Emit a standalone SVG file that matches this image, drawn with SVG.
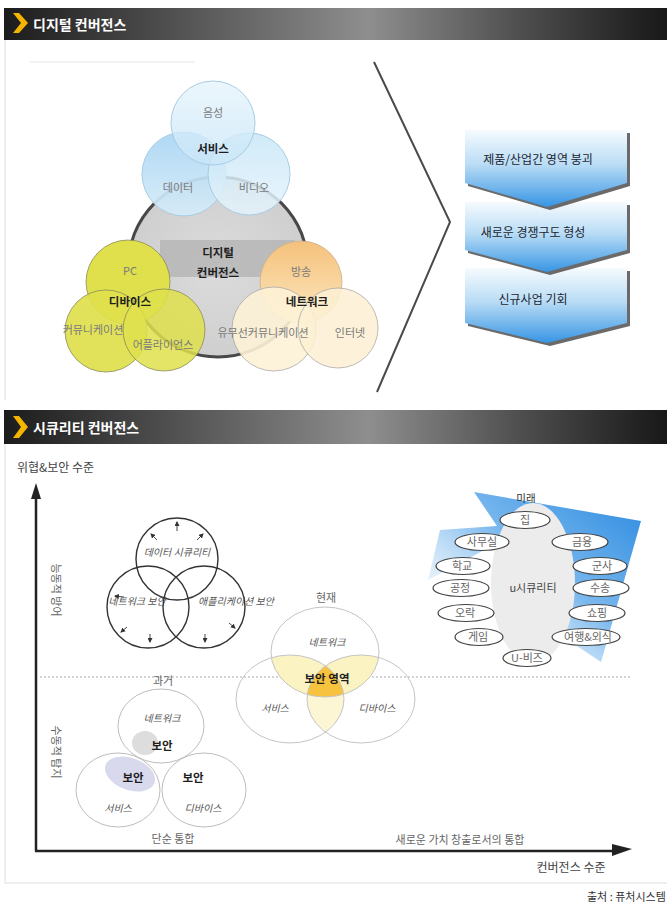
<svg xmlns="http://www.w3.org/2000/svg" width="667" height="903" viewBox="0 0 667 903">
<defs>
<style>
text{font-family:"Noto Sans CJK KR","Noto Sans",sans-serif;}
.hdr{fill:#fff;font-size:14px;font-weight:bold;}
.lt{fill:#7a7a7a;font-size:11px;text-anchor:middle;}
.bd{fill:#1e1e1e;font-size:11.5px;font-weight:bold;text-anchor:middle;}
.bx{fill:#1c2530;font-size:12px;text-anchor:middle;}
.it{fill:#555;font-size:10px;font-style:italic;text-anchor:middle;}
.gl{fill:#666;font-size:11px;text-anchor:middle;}
.el{fill:#fff;stroke:#444;stroke-width:1.2;}
.tc{fill:none;stroke:#333;stroke-width:1.4;}
.pc{fill:#fff;fill-opacity:0.3;stroke:#bdbdbd;stroke-width:1;}
.tick{stroke:#333;stroke-width:0.9;marker-end:url(#sa);}
</style>
<linearGradient id="bar" x1="0" y1="0" x2="1" y2="0">
<stop offset="0" stop-color="#1c1c1c"/><stop offset="0.3" stop-color="#5a5a5a"/><stop offset="0.55" stop-color="#8e8e8e"/><stop offset="0.78" stop-color="#4e4e4e"/><stop offset="1" stop-color="#181818"/>
</linearGradient>
<linearGradient id="blueBox" x1="0" y1="0" x2="0" y2="1">
<stop offset="0" stop-color="#f6fbfe"/><stop offset="0.45" stop-color="#b9dcf5"/><stop offset="1" stop-color="#3795e4"/>
</linearGradient>
<radialGradient id="gray" cx="0.5" cy="0.5" r="0.5">
<stop offset="0" stop-color="#dcdcdc"/><stop offset="1" stop-color="#cfcfcf"/>
</radialGradient>
<linearGradient id="svcTop" x1="0" y1="0" x2="0" y2="1"><stop offset="0" stop-color="#e6f4fc"/><stop offset="1" stop-color="#c9e6f8"/></linearGradient>
<linearGradient id="svcL" x1="0" y1="0" x2="0" y2="1"><stop offset="0" stop-color="#a9d5f3"/><stop offset="1" stop-color="#d6ecf9"/></linearGradient>
<linearGradient id="svcR" x1="0" y1="0" x2="0" y2="1"><stop offset="0" stop-color="#c8e6f7"/><stop offset="1" stop-color="#e6f4fc"/></linearGradient>
<linearGradient id="netTop" x1="0" y1="0" x2="0" y2="1"><stop offset="0" stop-color="#f5c17c"/><stop offset="1" stop-color="#fce8bf"/></linearGradient>
<linearGradient id="fut" x1="1" y1="0" x2="0" y2="1">
<stop offset="0" stop-color="#2a8ae0"/><stop offset="0.45" stop-color="#7ab8ee"/><stop offset="1" stop-color="#ffffff" stop-opacity="0"/>
</linearGradient>
<marker id="sa" markerWidth="5" markerHeight="5" refX="4" refY="2.5" orient="auto" markerUnits="userSpaceOnUse"><path d="M0,0 L5,2.5 L0,5 Z" fill="#333"/></marker>
<clipPath id="cBig"><circle cx="218" cy="267" r="89"/></clipPath>
<clipPath id="cA"><ellipse cx="325" cy="652" rx="54" ry="45"/></clipPath>
<clipPath id="cB"><ellipse cx="290" cy="699" rx="54" ry="44"/></clipPath>
<clipPath id="cC"><ellipse cx="361" cy="699" rx="54" ry="44"/></clipPath>
</defs>

<rect x="0" y="0" width="667" height="903" fill="#fff"/>

<!-- Header 1 -->
<g id="header1">
<rect x="4" y="8" width="663" height="32" fill="url(#bar)"/>
<polygon points="13,13 19,13 28,23 19,33 13,33 21,23" fill="#f4b400"/>
<text x="33" y="30" class="hdr">디지털 컨버전스</text>
</g>
<line x1="5" y1="40" x2="5" y2="400" stroke="#ddd" stroke-width="1"/>
<line x1="30" y1="62" x2="195" y2="62" stroke="#e4e4e4" stroke-width="1"/>

<!-- Digital convergence -->
<g id="core">
<circle cx="218" cy="267" r="90" fill="url(#gray)" stroke="#484848" stroke-width="3"/>
<rect x="160" y="240" width="135" height="37" fill="#b4b4b4" clip-path="url(#cBig)" opacity="0.8"/>
<text x="218" y="257" class="bd">디지털</text>
<text x="218" y="277" class="bd">컨버전스</text>
</g>

<g id="service">
<circle cx="184" cy="174" r="42" fill="url(#svcL)" fill-opacity="0.92" stroke="#a7cde4" stroke-width="1"/>
<circle cx="249" cy="174" r="41" fill="url(#svcR)" fill-opacity="0.85" stroke="#a7cde4" stroke-width="1"/>
<circle cx="213" cy="123" r="42" fill="url(#svcTop)" fill-opacity="0.8" stroke="#a7cde4" stroke-width="1"/>
<text x="213" y="117" class="lt">음성</text>
<text x="213" y="153" class="bd">서비스</text>
<text x="178" y="192" class="lt">데이터</text>
<text x="254" y="192" class="lt">비디오</text>
</g>

<g id="device">
<circle cx="128" cy="282" r="42" fill="#dfe04c" stroke="#8a8a5a" stroke-width="0.8"/>
<circle cx="106" cy="331" r="41" fill="#dfe04c" fill-opacity="0.92" stroke="#8a8a5a" stroke-width="0.8"/>
<circle cx="164" cy="330" r="41" fill="#dfe04c" fill-opacity="0.85" stroke="#8a8a5a" stroke-width="0.8"/>
<text x="130" y="275" class="lt">PC</text>
<text x="130" y="306" class="bd">디바이스</text>
<text x="93" y="334" class="lt">커뮤니케이션</text>
<text x="163" y="349" class="lt">어플라이언스</text>
</g>

<g id="network">
<circle cx="301" cy="282" r="41" fill="url(#netTop)" stroke="#c8b090" stroke-width="0.8"/>
<circle cx="274" cy="329" r="42" fill="#fdf2d6" fill-opacity="0.9" stroke="#aaa" stroke-width="0.8"/>
<circle cx="338" cy="328" r="40" fill="#fdf0d2" fill-opacity="0.85" stroke="#aaa" stroke-width="0.8"/>
<text x="301" y="276" class="lt">방송</text>
<text x="307" y="306" class="bd">네트워크</text>
<text x="263" y="337" class="lt">유무선커뮤니케이션</text>
<text x="350" y="337" class="lt">인터넷</text>
</g>

<g id="connectors">
<polyline points="374,62 450,222 377,392" fill="none" stroke="#4a4a4a" stroke-width="2"/>
</g>

<g id="step3">
<polygon points="468,271 630,271 630,326 550,346 468,326" fill="#6a6a6a"/>
<polygon points="465,268 627,268 627,323 547,343 465,323" fill="url(#blueBox)"/>
<text x="533" y="304" class="bx">신규사업 기회</text>
</g>
<g id="step2">
<polygon points="468,205 630,205 630,253 550,275 468,253" fill="#6a6a6a"/>
<polygon points="465,202 627,202 627,250 547,272 465,250" fill="url(#blueBox)"/>
<text x="533" y="237" class="bx">새로운 경쟁구도 형성</text>
</g>
<g id="step1">
<polygon points="468,133 630,133 630,186 550,210 468,186" fill="#6a6a6a"/>
<polygon points="465,130 627,130 627,183 547,207 465,183" fill="url(#blueBox)"/>
<text x="538" y="164" class="bx">제품/산업간 영역 붕괴</text>
</g>

<!-- Header 2 -->
<g id="header2">
<rect x="4" y="410" width="663" height="34" fill="url(#bar)"/>
<polygon points="13,416 19,416 28,427 19,438 13,438 21,427" fill="#f4b400"/>
<text x="33" y="433" class="hdr">시큐리티 컨버전스</text>
</g>
<line x1="5" y1="444" x2="5" y2="883" stroke="#ddd" stroke-width="1"/>
<line x1="5" y1="883" x2="667" y2="883" stroke="#ddd" stroke-width="1"/>

<!-- Axes -->
<g id="axes">
<line x1="36" y1="851" x2="36" y2="496" stroke="#222" stroke-width="2.5"/>
<polygon points="36,483 31,499 41,499" fill="#222"/>
<line x1="35" y1="851" x2="616" y2="851" stroke="#222" stroke-width="2.5"/>
<polygon points="632,849 612,844 612,856" fill="#222"/>
<text x="17" y="472" fill="#444" font-size="12">위협&amp;보안 수준</text>
<text x="571" y="872" fill="#444" font-size="12" text-anchor="middle">컨버전스 수준</text>
<text x="52" y="590" fill="#666" font-size="11" text-anchor="middle" transform="rotate(90 52 590)">능동적 방어</text>
<text x="52" y="752" fill="#666" font-size="11" text-anchor="middle" transform="rotate(90 52 752)">수동적 탐지</text>
<line x1="40" y1="677" x2="630" y2="677" stroke="#aaa" stroke-width="1" stroke-dasharray="2,2"/>
<text x="460" y="844" class="gl" font-size="10.5">새로운 가치 창출로서의 통합</text>
<text x="173" y="843" class="gl" font-size="10.5">단순 통합</text>
</g>

<!-- Threat circles -->
<g id="threats">
<circle cx="177" cy="559" r="41" class="tc"/>
<circle cx="148" cy="607" r="41" class="tc"/>
<circle cx="204" cy="607" r="41" class="tc"/>
<line x1="177" y1="531" x2="177" y2="522" class="tick"/>
<line x1="197" y1="540" x2="203" y2="534" class="tick"/>
<line x1="157" y1="540" x2="151" y2="534" class="tick"/>
<line x1="124" y1="597" x2="115" y2="596" class="tick"/>
<line x1="127" y1="627" x2="121" y2="632" class="tick"/>
<line x1="150" y1="634" x2="150" y2="642" class="tick"/>
<line x1="229" y1="623" x2="235" y2="628" class="tick"/>
<line x1="205" y1="634" x2="205" y2="642" class="tick"/>
<text x="177" y="556" class="it">데이터 시큐리티</text>
<text x="137" y="605" class="it">네트워크 보안</text>
<text x="236" y="605" class="it">애플리케이션 보안</text>
</g>

<!-- Past -->
<g id="past">
<text x="163" y="685" class="gl">과거</text>
<ellipse cx="145" cy="743" rx="13" ry="12" fill="#cfcfcf"/>
<ellipse cx="130" cy="774" rx="26" ry="16" fill="#c9c9e6" transform="rotate(20 130 774)"/>
<ellipse cx="161" cy="726" rx="43" ry="37" class="pc" stroke="#999"/>
<ellipse cx="118" cy="790" rx="42" ry="37" class="pc" stroke="#999"/>
<ellipse cx="204" cy="790" rx="42" ry="37" class="pc" stroke="#999"/>
<text x="162" y="722" class="it" font-size="10.5">네트워크</text>
<text x="162" y="750" class="bd">보안</text>
<text x="133" y="782" class="bd">보안</text>
<text x="118" y="812" class="it" font-size="10.5">서비스</text>
<text x="193" y="782" class="bd">보안</text>
<text x="203" y="812" class="it" font-size="10.5">디바이스</text>
</g>

<!-- Present -->
<g id="present">
<text x="326" y="602" class="gl" font-size="10.5">현재</text>
<g clip-path="url(#cA)"><ellipse cx="290" cy="699" rx="54" ry="44" fill="#fcf3c2"/><ellipse cx="361" cy="699" rx="54" ry="44" fill="#fcf3c2"/></g>
<g clip-path="url(#cB)"><ellipse cx="361" cy="699" rx="54" ry="44" fill="#fdf6d4"/></g>
<g clip-path="url(#cA)"><g clip-path="url(#cB)"><ellipse cx="361" cy="699" rx="54" ry="44" fill="#f7c33f"/></g></g>
<ellipse cx="325" cy="652" rx="54" ry="45" fill="none" stroke="#c4c4c4" stroke-width="1"/>
<ellipse cx="290" cy="699" rx="54" ry="44" fill="none" stroke="#c4c4c4" stroke-width="1"/>
<ellipse cx="361" cy="699" rx="54" ry="44" fill="none" stroke="#c4c4c4" stroke-width="1"/>
<text x="327" y="646" class="it" font-size="10.5">네트워크</text>
<text x="327" y="683" class="bd">보안 영역</text>
<text x="275" y="712" class="it" font-size="10.5">서비스</text>
<text x="377" y="712" class="it" font-size="10.5">디바이스</text>
</g>

<!-- Future -->
<g id="future">
<polygon points="474,492 641,521 601,662 568,640 552,560 503,540 428,580 440,530 497,526" fill="url(#fut)"/>
<ellipse cx="533" cy="583" rx="42" ry="80" fill="#ececec"/>
<text x="526" y="502" fill="#333" font-size="10.5" text-anchor="middle">미래</text>
<text x="533" y="592" fill="#444" font-size="11" text-anchor="middle">u시큐리티</text>
<ellipse cx="525" cy="520" rx="25" ry="8.5" class="el"/><text x="525" y="524" class="gl" fill="#333" font-size="10">집</text>
<ellipse cx="482" cy="542" rx="27" ry="8.5" class="el"/><text x="482" y="546" class="gl" fill="#333" font-size="10">사무실</text>
<ellipse cx="580" cy="542" rx="28" ry="8.5" class="el"/><text x="582" y="546" class="gl" fill="#333" font-size="10">금융</text>
<ellipse cx="463" cy="566" rx="27" ry="8.5" class="el"/><text x="462" y="570" class="gl" fill="#333" font-size="10">학교</text>
<ellipse cx="600" cy="566" rx="27" ry="8.5" class="el"/><text x="602" y="570" class="gl" fill="#333" font-size="10">군사</text>
<ellipse cx="461" cy="588" rx="28" ry="8.5" class="el"/><text x="460" y="592" class="gl" fill="#333" font-size="10">공정</text>
<ellipse cx="601" cy="588" rx="28" ry="8.5" class="el"/><text x="600" y="592" class="gl" fill="#333" font-size="10">수송</text>
<ellipse cx="466" cy="613" rx="28" ry="8.5" class="el"/><text x="465" y="617" class="gl" fill="#333" font-size="10">오락</text>
<ellipse cx="597" cy="613" rx="28" ry="8.5" class="el"/><text x="597" y="617" class="gl" fill="#333" font-size="10">쇼핑</text>
<ellipse cx="479" cy="637" rx="24" ry="8.5" class="el"/><text x="478" y="641" class="gl" fill="#333" font-size="10">게임</text>
<ellipse cx="586" cy="637" rx="34" ry="8.5" class="el"/><text x="588" y="641" class="gl" fill="#333" font-size="10">여행&amp;외식</text>
<ellipse cx="527" cy="658" rx="24" ry="8.5" class="el"/><text x="527" y="662" class="gl" fill="#333" font-size="10">U-비즈</text>
</g>

<text x="587" y="901" fill="#333" font-size="11">출처 : 퓨처시스템</text>
</svg>
